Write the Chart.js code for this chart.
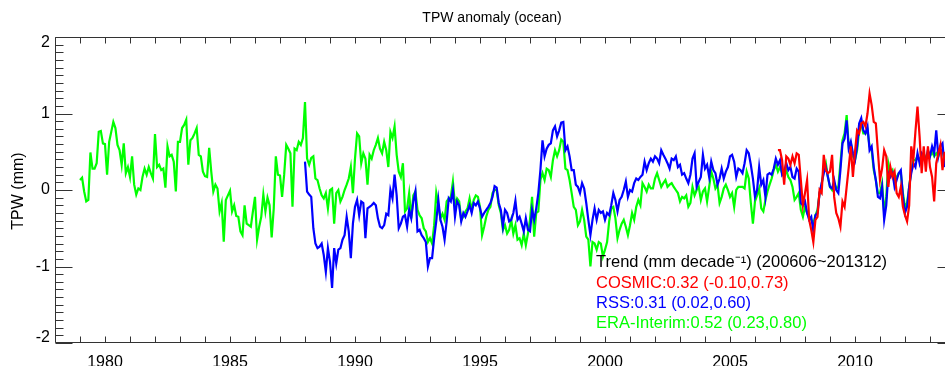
<!DOCTYPE html>
<html><head><meta charset="utf-8">
<script src="https://cdn.jsdelivr.net/npm/chart.js@4/dist/chart.umd.min.js"></script>
<style>html,body{margin:0;padding:0;background:#fff;overflow:hidden;width:945px;height:366px}canvas{display:block}</style>
</head><body><canvas id="c" width="960" height="366"></canvas>
<script>
const chartTitle = 'TPW anomaly (ocean)';
const yAxisTitle = 'TPW (mm)';
const xTickYears = [1980, 1985, 1990, 1995, 2000, 2005, 2010];
const yTickValues = [-2, -1, 0, 1, 2];
const xRange = [1978, 2014];
const yRange = [-2, 2];

// monthly series, first value = first month
const eraStart = 1979;            // Jan 1979
const rssStart = 1988;            // Jan 1988
const cosmicStart = 2006 + 11/12; // Dec 2006

const eraInterim = [
 0.13,0.16,-0.02,-0.15,-0.13,0.49,0.28,0.28,0.35,0.76,
 0.77,0.61,0.60,0.20,0.63,0.76,0.89,0.81,0.59,0.52,
 0.33,0.61,0.22,0.30,0.17,0.44,0.07,-0.06,0.02,0.00,
 0.17,0.28,0.20,0.30,0.22,0.15,0.73,0.30,0.33,0.26,
 0.28,0.03,0.57,0.44,0.46,0.37,-0.02,0.63,0.63,0.81,
 0.85,0.92,0.33,0.65,0.68,0.74,0.81,0.46,0.44,0.24,
 0.18,0.17,0.55,0.24,-0.02,0.07,0.02,-0.28,-0.17,
 -0.675,-0.13,-0.07,-0.01,-0.28,-0.20,-0.34,-0.35,-0.54,
 -0.59,-0.20,-0.44,-0.46,-0.48,-0.28,-0.09,-0.65,-0.48,
 -0.35,-0.06,-0.28,-0.10,-0.20,-0.62,-0.24,0.44,0.20,
 0.19,-0.09,0.20,0.59,0.54,0.48,-0.22,0.54,0.52,0.63,
 0.59,0.68,1.15,
 0.41,0.33,0.42,0.44,0.15,0.13,0.02,-0.07,-0.11,-0.04,
 -0.24,0,0.02,-0.44,-0.04,0,-0.15,-0.09,0,
 0.07,0.15,0.3,-0.04,0.41,0.74,0.7,0.35,0.48,0.41,
 0.07,0.46,0.41,0.52,0.59,0.68,0.54,0.48,0.63,
 0.52,0.3,0.76,0.68,0.83,0.46,0.24,0.17,0.35,-0.28,
 -0.24,-0.04,-0.37,-0.07,-0.02,-0.26,-0.33,-0.37,-0.5,
 -0.54,-0.68,-0.63,-0.7,-0.46,-0.04,-0.2,-0.37,-0.31,-0.39,
 -0.15,-0.11,-0.09,0.11,-0.2,-0.11,-0.15,
 -0.39,-0.35,-0.28,-0.24,-0.11,-0.26,-0.13,-0.07,-0.09,
 -0.22,-0.59,-0.48,-0.35,-0.26,-0.22,-0.04,0,0,
 -0.2,-0.3,-0.52,-0.46,-0.57,-0.52,-0.39,-0.57,-0.46,-0.65,
 -0.63,-0.72,-0.57,-0.72,-0.57,-0.39,-0.09,-0.61,-0.3,
 -0.28,0.13,0.22,0.13,0.28,0.26,0.17,0.39,0.52,0.44,
 0.52,0.66,0.63,0.28,0.26,0.13,-0.04,-0.22,-0.26,
 -0.46,-0.41,-0.26,-0.39,-0.61,-0.65,-1.0,-0.68,-0.7,-0.78,
 -0.68,-0.7,-0.87,-0.78,-0.68,
 -0.41,-0.24,-0.22,-0.37,-0.63,-0.52,-0.44,-0.39,-0.48,-0.59,
 -0.46,-0.3,-0.39,-0.22,-0.13,-0.2,0.09,0.04,-0.02,
 0.07,0.02,0.02,0.15,0.22,0.13,0.04,0.09,0.13,
 0.04,0.07,0.09,0.04,0,-0.04,-0.15,-0.09,-0.11,-0.07,
 -0.22,-0.17,0.04,-0.07,0,0.04,-0.13,-0.02,0.02,-0.15,
 0.04,0.24,0.15,0.02,0.07,-0.17,-0.09,0.02,0.07,0,
 -0.09,-0.04,-0.22,0,0.04,0.04,0.04,0.02,0.24,
 0.15,-0.17,-0.44,-0.15,-0.07,
 0.02,-0.24,-0.28,-0.13,-0.02,0.07,0.15,0.26,0.33,0.24,
 0.30,0.22,0.17,0.26,0.17,0.13,0.04,-0.13,-0.09,-0.04,
 -0.26,-0.35,-0.22,-0.30,-0.35,-0.39,-0.44,-0.33,-0.26,
 -0.04,0.07,0.26,0.35,0.17,0.04,0,0.09,0.02,
 0.04,0.35,0.65,0.74,0.98,0.57,0.61,0.44,0.39,0.52,
 0.78,0.87,0.74,0.74,0.78,0.57,0.52,0.26,0.13,-0.04,
 -0.04,0.09,-0.30,-0.09,0.35,0.22,0.26,0.13,0.17,0.22,
 0.22,-0.04,-0.22,-0.17,0.04,0.26,0.39,0.39,0.44,
 0.39,0.44,0.48,0.41,0.48,0.44,0.5,0.44,0.48,0.44,
 0.52,0.52,0.39
];

const rss = [
 0.37,-0.02,-0.06,-0.09,-0.5,-0.7,-0.76,-0.74,-0.7,
 -0.85,-1.07,-0.76,-0.94,-1.28,-0.76,-0.96,-0.78,-0.76,
 -0.65,-0.59,-0.35,-0.54,-0.89,-0.44,-0.22,-0.13,-0.33,-0.15,
 -0.17,-0.63,-0.24,-0.22,-0.2,-0.17,-0.2,-0.37,-0.48,-0.5,
 -0.46,-0.31,-0.33,0,-0.11,0.2,-0.07,-0.5,-0.44,-0.35,
 -0.33,-0.48,-0.26,-0.37,-0.15,-0.02,-0.54,-0.52,-0.59,-0.63,
 -0.68,-1.0,-0.89,-0.89,-0.63,-0.41,-0.13,-0.39,-0.48,
 -0.65,-0.41,-0.11,-0.15,0,-0.35,-0.15,-0.2,
 -0.41,-0.30,-0.35,-0.28,-0.2,-0.3,-0.17,-0.2,-0.15,
 -0.24,-0.35,-0.3,-0.26,-0.22,-0.17,-0.09,0.05,0.03,
 -0.17,-0.26,-0.48,-0.26,-0.3,-0.41,-0.39,-0.3,-0.14,-0.39,
 -0.35,-0.44,-0.54,-0.37,-0.52,-0.54,-0.26,-0.39,-0.24,
 -0.04,0.26,0.65,0.44,0.54,0.59,0.61,0.78,0.83,0.7,
 0.78,0.88,0.89,0.52,0.57,0.44,0.26,0.26,0.07,
 0.04,-0.04,0.09,0.02,-0.17,-0.39,-0.59,-0.39,-0.24,-0.39,
 -0.26,-0.3,-0.28,-0.39,-0.3,
 -0.33,-0.2,-0.04,-0.13,-0.28,-0.13,-0.09,0,0.11,-0.09,
 0,-0.02,0.09,0.15,0.13,0.17,0.2,0.37,0.26,
 0.35,0.41,0.37,0.44,0.41,0.35,0.52,0.46,0.41,0.35,
 0.28,0.41,0.39,0.44,0.3,0.33,0.2,0.22,0.15,
 0.09,0.2,0.41,0.48,0.04,0.11,0.17,0.46,0.28,0.33,
 0.17,0.37,0.26,0.22,0.07,0.15,0.28,0.15,0.24,0.3,
 0.44,0.46,0.37,0.17,0.28,0.26,0.22,0.35,0.52,
 0.48,0.33,0.15,-0.09,0,
 0.3,0.07,0.13,-0.09,0.2,0.22,0.2,0.28,0.41,0.33,
 0.39,0.2,0.24,0.35,0.26,0.3,0.17,0.15,0.28,0.24,
 -0.17,-0.2,-0.15,-0.3,-0.39,-0.35,-0.54,-0.33,-0.3,
 -0.04,0.09,0.22,0.3,0.17,0.04,0.02,0.13,0,
 -0.04,0.26,0.61,0.67,0.91,0.54,0.63,0.48,0.39,0.57,
 0.87,0.94,0.78,0.74,0.83,0.52,0.57,0.3,0.13,-0.09,
 -0.11,0.04,-0.39,-0.2,0.22,0.17,0.22,0.04,0.13,0.22,
 0.26,-0.09,-0.3,-0.22,0.04,0.22,0.35,0.3,0.48,
 0.35,0.48,0.44,0.39,0.52,0.44,0.57,0.48,0.78,0.44,
 0.57,0.61,0.3
];

const cosmic = [
 0.52,
 0.52,0.39,0.07,0.44,0.41,0.33,0.44,0.35,0.48,
 0.46,0.13,-0.2,-0.04,0.13,-0.39,-0.52,-0.68,-0.39,-0.35,
 0,-0.04,0.46,0.26,0.22,0.24,0.46,-0.09,-0.3,-0.37,
 -0.48,-0.15,-0.22,0.04,0.3,0.57,0.17,0.5,0.78,0.74,
 0.87,0.89,0.83,1.0,1.26,1.11,0.89,0.87,0.5,
 0.13,0.28,0.52,0.44,0.04,0.3,0.17,0.24,-0.04,-0.09,
 0.04,-0.22,-0.33,-0.41,-0.2,0.57,0.39,0.76,1.09,
 0.7,0.22,0.57,0.24,0.57,0.3,0.17,-0.15,0.35,0.48,
 0.59,0.26,0.5
];

const trendHeader = 'Trend (mm decade\u207B\u00B9) (200606~201312)';
const trendLabels = ['COSMIC:0.32 (-0.10,0.73)', 'RSS:0.31 (0.02,0.60)', 'ERA-Interim:0.52 (0.23,0.80)'];
const trendColors = ['#ff0000', '#0000ff', '#00ff00'];

function toPoints(start, vals) { return vals.map((v, i) => ({ x: start + i / 12, y: v })); }

const FONT = '"Liberation Sans", Arial, Helvetica, sans-serif';

const axesPlugin = {
  id: 'idlAxes',
  afterDatasetsDraw(chart) {
    const ctx = chart.ctx, a = chart.chartArea, xs = chart.scales.x, ys = chart.scales.y;
    ctx.save();
    ctx.strokeStyle = '#333'; ctx.lineWidth = 1;
    const L = Math.round(a.left) + 0.5, R = Math.round(a.right) - 0.5;
    const T = Math.round(a.top) + 0.5, B = Math.round(a.bottom) - 0.5;
    ctx.beginPath();
    ctx.rect(L, T, R - L, B - T);
    for (let yr = xRange[0]; yr <= xRange[1]; yr++) {
      const px = Math.round(xs.getPixelForValue(yr)) + 0.5;
      ctx.moveTo(px, B); ctx.lineTo(px, B - 6);
      ctx.moveTo(px, T); ctx.lineTo(px, T + 6);
    }
    for (let k = yRange[0] * 10; k <= yRange[1] * 10; k++) {
      const py = Math.round(ys.getPixelForValue(k / 10)) + 0.5;
      const len = (k % 10 === 0) ? 17 : 8;
      ctx.moveTo(L, py); ctx.lineTo(L + len, py);
      ctx.moveTo(R, py); ctx.lineTo(R - len, py);
    }
    ctx.stroke();

    ctx.fillStyle = '#000';
    ctx.font = '16px ' + FONT;
    ctx.textAlign = 'center'; ctx.textBaseline = 'alphabetic';
    xTickYears.forEach(yr => ctx.fillText(String(yr), xs.getPixelForValue(yr), 366.5));
    ctx.textAlign = 'right'; ctx.textBaseline = 'middle';
    yTickValues.forEach(v => {
      let py = ys.getPixelForValue(v);
      py = Math.min(Math.max(py, a.top + 6), a.bottom - 5);
      ctx.fillText(String(v), 50, py);
    });

    ctx.font = '14px ' + FONT;
    ctx.textAlign = 'center';
    ctx.fillText(chartTitle, 492, 18);

    ctx.save();
    ctx.font = '16px ' + FONT;
    ctx.translate(18.5, 191);
    ctx.rotate(-Math.PI / 2);
    ctx.textAlign = 'center'; ctx.textBaseline = 'middle';
    ctx.fillText(yAxisTitle, 0, 0);
    ctx.restore();

    ctx.font = '16.5px ' + FONT;
    ctx.textAlign = 'left'; ctx.textBaseline = 'middle';
    ctx.fillStyle = '#000';
    ctx.fillText(trendHeader, 596, 262);
    trendLabels.forEach((t, i) => {
      ctx.fillStyle = trendColors[i];
      ctx.fillText(t, 596, 283 + i * 20.3);
    });
    ctx.restore();
  }
};

new Chart(document.getElementById('c').getContext('2d'), {
  type: 'line',
  data: {
    datasets: [
      { label: 'COSMIC', data: toPoints(cosmicStart, cosmic), borderColor: '#ff0000' },
      { label: 'RSS', data: toPoints(rssStart, rss), borderColor: '#0000ff' },
      { label: 'ERA-Interim', data: toPoints(eraStart, eraInterim), borderColor: '#00ff00' }
    ]
  },
  options: {
    responsive: false,
    animation: false,
    elements: { line: { borderWidth: 2.2, tension: 0, fill: false }, point: { radius: 0 } },
    layout: { padding: { left: 55, right: 5, top: 37, bottom: 23 } },
    scales: {
      x: { type: 'linear', min: xRange[0], max: xRange[1], display: false },
      y: { type: 'linear', min: yRange[0], max: yRange[1], display: false }
    },
    plugins: { legend: { display: false }, tooltip: { enabled: false }, title: { display: false } }
  },
  plugins: [axesPlugin]
});
</script>
</body></html>
